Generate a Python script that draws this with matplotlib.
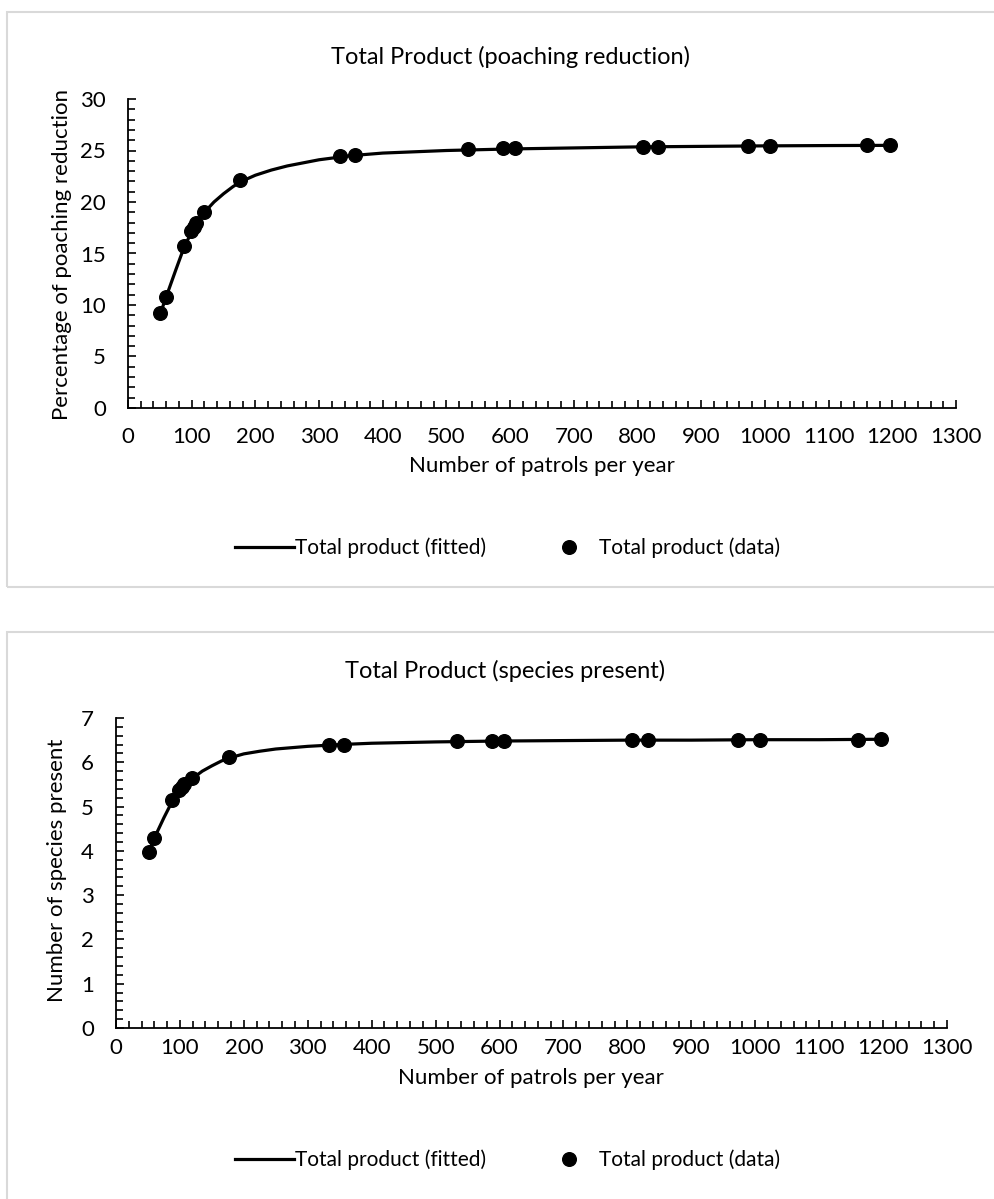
import numpy as np
import matplotlib
matplotlib.use("Agg")
import matplotlib.pyplot as plt
from matplotlib.patches import Rectangle
from matplotlib.ticker import MultipleLocator

plt.rcParams['font.family'] = ['Lato', 'DejaVu Sans']

# patrols per year (data points)
patrols = [51, 60, 88, 99, 103, 107, 119, 176, 333, 356, 534, 588, 607,
           808, 832, 973, 1008, 1161, 1197]
poaching = [9.2, 10.8, 15.7, 17.15, 17.6, 17.95, 19.0, 22.1, 24.5, 24.6,
            25.1, 25.2, 25.2, 25.35, 25.35, 25.45, 25.45, 25.5, 25.5]
species = [3.97, 4.29, 5.15, 5.38, 5.45, 5.52, 5.64, 6.12, 6.38, 6.39,
           6.47, 6.48, 6.48, 6.5, 6.5, 6.51, 6.51, 6.51, 6.52]

# fitted curves
fit_x = [51, 60, 75, 88, 100, 110, 120, 135, 150, 165, 178, 200, 225, 250,
         300, 350, 400, 500, 600, 700, 800, 900, 1000, 1100, 1200]
fit_poaching = [9.2, 10.8, 13.4, 15.6, 17.1, 18.1, 19.0, 20.0, 20.8, 21.5,
                22.0, 22.6, 23.1, 23.5, 24.1, 24.5, 24.75, 25.0, 25.15,
                25.25, 25.35, 25.4, 25.45, 25.48, 25.5]
fit_species = [3.97, 4.29, 4.75, 5.12, 5.37, 5.52, 5.64, 5.8, 5.92, 6.03,
               6.1, 6.19, 6.25, 6.3, 6.36, 6.4, 6.43, 6.46, 6.48, 6.49,
               6.5, 6.5, 6.51, 6.51, 6.52]

W, H = 994, 1199
fig = plt.figure(figsize=(W / 100, H / 100), dpi=100)


def px(x, y):
    # pixel position (from top-left) -> figure fraction
    return x / W, 1 - y / H


# chart frames (Excel-like light grey border)
for (x0, y0, x1, y1) in [(7, 12, 1010, 587), (7, 632, 1010, 1230)]:
    fig.add_artist(Rectangle(px(x0, y1), (x1 - x0) / W, (y1 - y0) / H,
                             transform=fig.transFigure, fill=False,
                             edgecolor='#d9d9d9', linewidth=1.5))


def panel(rect, y, fit, title, ylabel, ymax, yminor, xpad, pos):
    ax = fig.add_axes(rect)
    ax.plot(fit_x, fit, color='black', linewidth=2.3,
            label='Total product (fitted)', zorder=2)
    ax.plot(patrols, y, linestyle='none', marker='o', markersize=9.8,
            color='black', label='Total product (data)', zorder=3)
    ax.set_xlim(0, 1300)
    ax.set_ylim(0, ymax)
    ax.xaxis.set_major_locator(MultipleLocator(100))
    ax.xaxis.set_minor_locator(MultipleLocator(20))
    ax.yaxis.set_major_locator(MultipleLocator(5 if ymax == 30 else 1))
    ax.yaxis.set_minor_locator(MultipleLocator(yminor))
    for s in ['top', 'right']:
        ax.spines[s].set_visible(False)
    for s in ['left', 'bottom']:
        ax.spines[s].set_linewidth(1.3)
    ax.tick_params(which='both', direction='in', width=1.2, labelsize=16)
    ax.tick_params(which='major', length=6)
    ax.tick_params(which='minor', length=5)
    ax.tick_params(axis='x', which='major', pad=xpad)
    ax.tick_params(axis='y', which='major', pad=16)

    tx, ty, xx, xy, yx, yy, lx, ly = pos
    fig.text(*px(tx, ty), title, fontsize=17, ha='center', va='center')
    fig.text(*px(xx, xy), 'Number of patrols per year', fontsize=16,
             ha='center', va='center')
    fig.text(*px(yx, yy), ylabel, fontsize=16, rotation=90,
             ha='center', va='center')
    ax.legend(loc='center', bbox_to_anchor=px(lx, ly),
              bbox_transform=fig.transFigure, ncol=2, frameon=False,
              fontsize=15, handlelength=2.8, handletextpad=0.05,
              columnspacing=2.6)
    return ax


panel([128 / W, 1 - 408 / H, 828 / W, 309 / H], poaching, fit_poaching,
      'Total Product (poaching reduction)', 'Percentage of poaching reduction',
      30, 1, 14, (510, 57, 542, 466, 62, 254, 508, 548))
panel([116 / W, 1 - 1028 / H, 831 / W, 310 / H], species, fit_species,
      'Total Product (species present)', 'Number of species present',
      7, 0.2, 7, (505, 671, 531, 1078, 57, 870, 508, 1160))

fig.savefig('out.png', dpi=100)
